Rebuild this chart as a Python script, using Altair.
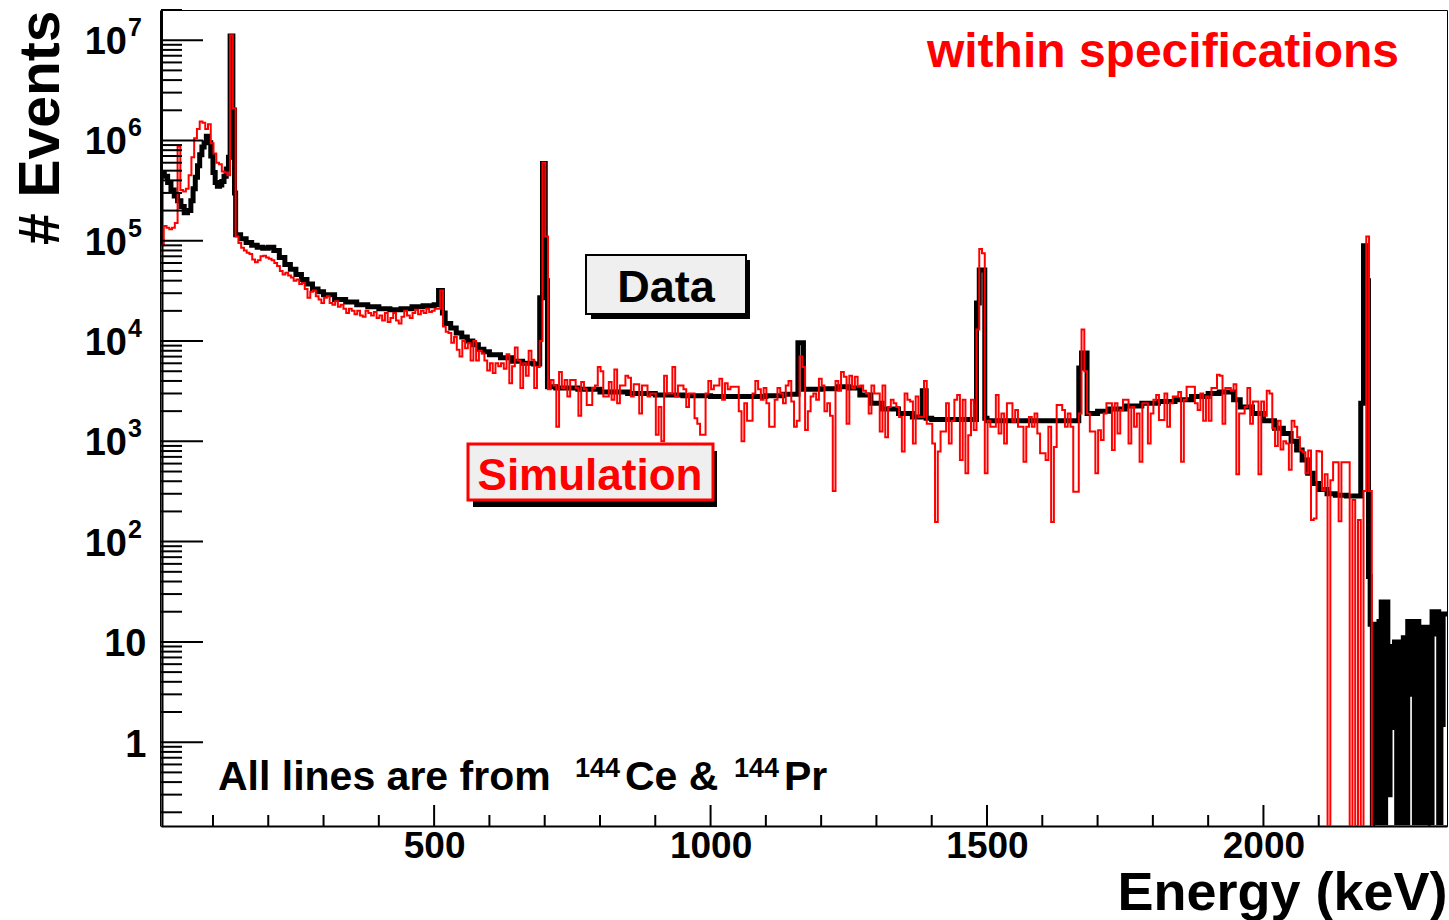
import altair as alt
import pandas as pd

# ---------------------------------------------------------------
# Data
# ---------------------------------------------------------------
# Measured "Data" spectrum: (bin low edge in keV, events per bin)
DATA_LOW_E = [6, 12, 18, 24, 30, 36, 42, 48, 54, 60, 64, 68, 72, 76, 80, 84, 88, 92, 96, 100,
              104, 108, 112, 116, 120, 124, 128, 131, 136, 139]
DATA_LOW_N = [4.8e5, 4.4e5, 3.8e5, 3.2e5, 2.8e5, 2.5e5, 2.2e5, 1.9e5, 2.0e5, 2.5e5,
              3.3e5, 4.3e5, 5.6e5, 7.2e5, 8.6e5, 9.5e5, 1.1e6, 9.5e5, 7.0e5, 4.8e5,
              3.8e5, 3.5e5, 3.6e5, 3.9e5, 4.4e5, 5.2e5, 6.8e5, 1.1e7, 2.0e6, 3.0e5]

DATA_MID_E = [141, 150, 160, 170, 180, 190, 200, 210, 220, 230, 240, 250, 260, 270, 280, 290,
              300, 320, 340, 360, 380, 400, 420, 440, 460, 480, 500, 508, 515, 520, 530, 540,
              550, 560, 570, 580, 590, 600, 620, 640, 660, 680, 691, 696, 701, 705, 720, 760,
              800, 850, 900, 950]
DATA_MID_N = [1.15e5, 1.05e5, 9.6e4, 9.0e4, 8.6e4, 8.4e4, 8.6e4, 8.0e4, 6.8e4, 5.8e4,
              5.2e4, 4.6e4, 4.1e4, 3.7e4, 3.3e4, 3.1e4, 2.9e4, 2.6e4, 2.45e4, 2.3e4,
              2.2e4, 2.1e4, 2.05e4, 2.1e4, 2.2e4, 2.25e4, 2.3e4, 3.2e4, 1.9e4, 1.5e4,
              1.35e4, 1.2e4, 1.1e4, 1.0e4, 9.2e3, 8.3e3, 7.8e3, 7.3e3, 6.8e3, 6.3e3,
              6.0e3, 5.9e3, 2.7e4, 5.9e5, 4.0e4, 3.5e3, 3.4e3, 3.3e3, 3.1e3, 3.0e3,
              2.9e3, 2.85e3]

DATA_HIGH_E = [1000, 1050, 1100, 1130, 1158, 1168, 1200, 1230, 1250, 1270, 1290, 1310, 1340,
               1365, 1383, 1390, 1400, 1481, 1486, 1496, 1500, 1666, 1671, 1681, 1700, 1720,
               1750, 1780, 1810, 1840, 1870, 1900, 1920, 1946, 1958, 1980, 2000, 2020, 2036,
               2050, 2060, 2070, 2080, 2090, 2100, 2115, 2130, 2150, 2176, 2181, 2186, 2190]
DATA_HIGH_N = [2.8e3, 2.8e3, 2.85e3, 2.95e3, 9.6e3, 3.3e3, 3.35e3, 3.5e3, 3.4e3, 2.9e3,
               2.4e3, 2.1e3, 1.9e3, 1.75e3, 3.2e3, 1.7e3, 1.65e3, 2.4e4, 5.1e4, 1.7e3,
               1.6e3, 5.4e3, 7.6e3, 1.9e3, 2.0e3, 2.1e3, 2.25e3, 2.4e3, 2.5e3, 2.6e3,
               2.8e3, 3.0e3, 3.1e3, 2.6e3, 2.2e3, 1.9e3, 1.6e3, 1.35e3, 1.2e3, 1.0e3,
               820, 650, 480, 380, 330, 300, 290, 285, 2.4e3, 8.9e4,
               4.0e4, 45]

DATA_TAIL_E = [2193, 2197, 2201, 2205, 2209, 2213, 2217, 2221, 2225, 2229, 2233, 2237, 2241,
               2245, 2249, 2253, 2257, 2261, 2265, 2269, 2273, 2277, 2281, 2285, 2289, 2293,
               2297, 2301, 2305, 2309, 2313, 2317, 2321, 2325, 2329]
DATA_TAIL_N = [15, 0, 15, 0, 16, 25, 0, 25, 0.3, 9, 1.4, 10, 0, 10, 0, 11, 0, 16, 3, 16,
               0, 16, 14, 0, 14, 0, 14, 0, 20, 12, 20, 0, 1.5, 19, 19]

# Simulation spectrum: 5 keV bins starting at 6 keV (one row = 100 keV)
SIM_START_KEV = 6
SIM_BIN_KEV = 5
SIM_A = [9e4, 1.4e5, 1.35e5, 1.3e5, 1.35e5, 1.5e5, 8.7e5, 3.2e5, 3.1e5, 3.3e5,
         4.5e5, 6.8e5, 1.05e6, 1.3e6, 1.55e6, 1.5e6, 1.3e6, 1.45e6, 9.4e5, 7.4e5,
         6.0e5, 5.8e5, 4.9e5, 4.8e5, 4.5e5, 1.12e7, 2.1e6, 1.1e5, 9.5e4, 8.5e4,
         8.0e4, 7.6e4, 7.4e4, 6.5e4, 6.1e4, 6.4e4, 7.0e4, 7.1e4, 6.8e4, 6.6e4,
         6.4e4, 6.0e4, 5.6e4, 5.0e4, 4.6e4, 4.8e4, 4.5e4, 4.3e4, 4.0e4, 4.1e4,
         3.7e4, 3.8e4, 3.3e4, 2.7e4, 3.1e4, 3.2e4, 2.8e4, 2.6e4, 2.4e4, 2.7e4,
         2.8e4, 2.4e4, 2.3e4, 2.5e4, 2.2e4, 2.3e4, 2.1e4, 1.9e4, 2.1e4, 2.0e4,
         1.85e4, 2.0e4, 1.8e4, 1.75e4, 2.0e4, 1.9e4, 1.8e4, 1.95e4, 1.7e4, 1.8e4,
         1.6e4, 1.9e4, 1.55e4, 1.7e4, 1.9e4, 1.6e4, 1.5e4, 1.75e4, 2.0e4, 1.8e4,
         1.7e4, 1.9e4, 2.05e4, 1.85e4, 2.0e4, 1.9e4, 2.1e4, 1.95e4, 2.0e4, 2.1e4]
SIM_B = [2.1e4, 3.2e4, 1.4e4, 1.24e4, 1.2e4, 9.6e3, 1.1e4, 8.2e3, 7.0e3, 1.0e4,
         8.5e3, 9.5e3, 6.4e3, 1.0e4, 6.4e3, 8.0e3, 7.5e3, 6.4e3, 5.1e3, 6.0e3,
         4.8e3, 6.0e3, 5.6e3, 6.0e3, 5.3e3, 7.4e3, 3.8e3, 5.6e3, 8.6e3, 6.4e3,
         3.4e3, 6.0e3, 4.5e3, 8.0e3, 6.5e3, 3.4e3, 5.5e3, 1.0e4, 6.0e5, 1.1e5,
         3.3e3, 4.1e3, 3.6e3, 1.4e3, 4.9e3, 3.4e3, 4.1e3, 2.8e3, 4.1e3, 4.1e3,
         3.4e3, 1.8e3, 3.9e3, 3.3e3, 2.3e3, 2.3e3, 3.4e3, 3.6e3, 5.5e3, 5.0e3,
         2.8e3, 2.8e3, 3.9e3, 2.6e3, 5.2e3, 2.4e3, 3.6e3, 3.6e3, 4.5e3, 4.3e3,
         2.8e3, 3.7e3, 3.7e3, 1.9e3, 3.6e3, 3.6e3, 2.8e3, 3.0e3, 3.0e3, 1.16e3,
         2.2e3, 1.0e3, 4.5e3, 3.0e3, 3.0e3, 5.5e3, 2.8e3, 3.6e3, 3.6e3, 3.3e3,
         2.2e3, 3.0e3, 3.0e3, 1.7e3, 1.5e3, 1.16e3, 1.16e3, 3.0e3, 4.0e3, 3.3e3]
SIM_C = [3.6e3, 3.6e3, 4.2e3, 2.6e3, 3.8e3, 3.3e3, 3.5e3, 3.5e3, 3.5e3, 2.0e3,
         1.0e3, 2.4e3, 1.6e3, 1.6e3, 3.0e3, 4.0e3, 3.3e3, 2.6e3, 3.4e3, 2.4e3,
         1.4e3, 1.4e3, 2.6e3, 3.4e3, 3.0e3, 2.4e3, 3.6e3, 4.0e3, 2.5e3, 1.4e3,
         1.6e3, 7.0e3, 5.5e3, 1.3e3, 2.0e3, 2.8e3, 3.0e3, 2.6e3, 4.2e3, 3.6e3,
         2.0e3, 2.4e3, 1.8e3, 320, 4.0e3, 3.2e3, 4.9e3, 4.4e3, 1.5e3, 4.5e3,
         3.4e3, 4.4e3, 3.5e3, 3.6e3, 3.2e3, 3.0e3, 1.9e3, 3.6e3, 3.0e3, 3.0e3,
         1.25e3, 3.6e3, 1.1e3, 2.2e3, 2.6e3, 2.4e3, 2.2e3, 1.75e3, 790, 3.0e3,
         2.6e3, 2.5e3, 950, 2.8e3, 1.75e3, 1.75e3, 4.0e3, 1.5e3, 1.5e3, 950,
         157, 790, 1.25e3, 1.25e3, 2.4e3, 950, 1.6e3, 2.6e3, 2.9e3, 650,
         2.6e3, 480, 1.15e3, 2.6e3, 1.3e3, 1.3e4, 8.3e4, 7.5e4, 480, 1.6e3]
SIM_D = [1.4e3, 1.4e3, 2.9e3, 1.2e3, 1.9e3, 950, 2.4e3, 2.4e3, 1.57e3, 2.05e3,
         1.4e3, 1.4e3, 625, 1.4e3, 1.75e3, 1.4e3, 1.9e3, 1.2e3, 760, 760,
         650, 1.4e3, 157, 880, 2.3e3, 2.3e3, 2.05e3, 1.4e3, 1.9e3, 1.4e3,
         314, 314, 1.9e3, 1.3e4, 5.0e3, 1.9e3, 1.25e3, 1.25e3, 480, 1.29e3,
         1.03e3, 1.9e3, 2.4e3, 2.4e3, 820, 2.4e3, 1.2e3, 2.05e3, 2.6e3, 2.6e3,
         950, 2.2e3, 1.4e3, 1.9e3, 625, 2.4e3, 2.4e3, 950, 1.9e3, 2.6e3,
         2.9e3, 1.63e3, 1.63e3, 3.0e3, 1.4e3, 2.4e3, 2.8e3, 2.8e3, 3.1e3, 625,
         2.6e3, 3.5e3, 3.5e3, 3.5e3, 2.4e3, 2.05e3, 3.0e3, 1.6e3, 2.8e3, 1.6e3,
         3.4e3, 3.4e3, 4.6e3, 4.5e3, 1.5e3, 3.4e3, 3.4e3, 3.2e3, 3.7e3, 470,
         1.9e3, 1.9e3, 2.2e3, 3.4e3, 1.5e3, 2.5e3, 2.5e3, 470, 2.5e3, 1.8e3]
SIM_E = [3.2e3, 3.0e3, 1.35e3, 900, 1.6e3, 830, 1.0e3, 950, 520, 1.6e3,
         1.4e3, 1.1e3, 810, 780, 480, 810, 164, 170, 800, 790,
         325, 470, 0, 410, 620, 620, 160, 620, 620, 620,
         0, 260, 0, 164, 0, 320, 1.1e5, 320, 0, 0,
         0, 0, 0, 0, 0, 0, 0, 0, 0, 0,
         0, 0, 0, 0, 0, 0, 0, 0, 0, 0,
         0, 0, 0, 0, 0, 0]

# Axis tick labels / positions
X_LABEL_VALUES = [500, 1000, 1500, 2000]
Y_PLAIN_LABEL_VALUES = [1, 10]
Y_POWER_VALUES = [100, 1000, 10000, 100000, 1000000, 10000000]
Y_POWER_BASE = ["10", "10", "10", "10", "10", "10"]
Y_POWER_EXPONENT = ["2", "3", "4", "5", "6", "7"]

# ---------------------------------------------------------------
X_DOMAIN = [6, 2332]
Y_DOMAIN = [0.146, 2.0e7]
W, H = 1286, 816
FONT = "Liberation Sans"
RED = "#ff0000"

assert len(DATA_LOW_E) == len(DATA_LOW_N)
assert len(DATA_MID_E) == len(DATA_MID_N)
assert len(DATA_HIGH_E) == len(DATA_HIGH_N)
assert len(DATA_TAIL_E) == len(DATA_TAIL_N)


def hist_frame(edges, counts, end_edge):
    # histogram outline starts from the baseline at the first low edge
    rows = [{"E": edges[0], "n": 0.0, "i": 0}]
    for k, (e, c) in enumerate(zip(edges, counts)):
        rows.append({"E": e, "n": c, "i": k + 1})
    rows.append({"E": end_edge, "n": counts[-1], "i": len(edges) + 1})
    return pd.DataFrame(rows)


data_E = DATA_LOW_E + DATA_MID_E + DATA_HIGH_E + DATA_TAIL_E
data_N = DATA_LOW_N + DATA_MID_N + DATA_HIGH_N + DATA_TAIL_N
sim_N = SIM_A + SIM_B + SIM_C + SIM_D + SIM_E
sim_E = [SIM_START_KEV + SIM_BIN_KEV * k for k in range(len(sim_N))]

df_data = hist_frame(data_E, data_N, data_E[-1] + 4)
df_sim = hist_frame(sim_E, sim_N, sim_E[-1] + SIM_BIN_KEV)

xscale = alt.Scale(domain=X_DOMAIN, nice=False, zero=False)
yscale = alt.Scale(type="log", domain=Y_DOMAIN, nice=False, clamp=True)

LABEL_SIZE = 38
x_axis = alt.Axis(
    orient="bottom",
    values=X_LABEL_VALUES, format="d", ticks=False, grid=False,
    domainColor="black", domainWidth=2,
    labelFont=FONT, labelFontSize=37, labelFontWeight="bold", labelColor="black",
    labelPadding=2, labelBaseline="top", labelFlush=False, labelOverlap=False,
    title="Energy (keV)", titleFont=FONT, titleFontSize=54, titleFontWeight="bold",
    titleColor="black", titleX=W, titleY=83, titleAlign="right",
    titleBaseline="alphabetic", titleAnchor="end",
)
y_axis = alt.Axis(
    orient="left",
    values=Y_PLAIN_LABEL_VALUES, format="d",
    ticks=False, grid=False, domainColor="black", domainWidth=3,
    labelFont=FONT, labelFontSize=LABEL_SIZE, labelFontWeight="bold", labelColor="black",
    labelPadding=15, labelBaseline="middle", labelOffset=3, labelFlush=False,
    labelOverlap=False,
    title="# Events", titleFont=FONT, titleFontSize=57, titleFontWeight="bold",
    titleColor="black", titleAngle=270, titleX=-103, titleY=0, titleAlign="right",
    titleBaseline="alphabetic",
)

# every layer that uses a positional field shares the same scale and axis definition
X_ENC = dict(scale=xscale, axis=x_axis)
Y_ENC = dict(scale=yscale, axis=y_axis)


def hist_line(df, color, width):
    return (
        alt.Chart(df)
        .transform_calculate(yv="max(datum.n, 0.1)")
        .mark_line(interpolate="step-after", color=color, strokeWidth=width, clip=True)
        .encode(
            x=alt.X("E:Q", **X_ENC),
            y=alt.Y("yv:Q", **Y_ENC),
            order=alt.Order("i:Q"),
        )
    )


data_line = hist_line(df_data, "black", 5)
sim_line = hist_line(df_sim, RED, 2)

# ---- inward ticks (ROOT style) ----
y_major = Y_PLAIN_LABEL_VALUES + Y_POWER_VALUES
y_minor = [m * 10.0 ** d for d in range(-1, 8) for m in range(2, 10)
           if Y_DOMAIN[0] <= m * 10.0 ** d <= Y_DOMAIN[1]]
x_major = X_LABEL_VALUES
x_minor = [v for v in range(100, 2400, 100) if v % 500 and v <= X_DOMAIN[1]]


def yticks(vals, length):
    return alt.Chart(pd.DataFrame({"yv": vals})).mark_rule(
        color="black", strokeWidth=2).encode(
        y=alt.Y("yv:Q", **Y_ENC), x=alt.value(0), x2=alt.value(length))


def xticks(vals, length):
    return alt.Chart(pd.DataFrame({"E": vals})).mark_rule(color="black", strokeWidth=2).encode(
        x=alt.X("E:Q", **X_ENC), y=alt.value(H), y2=alt.value(H - length))


# "10" + superscript exponent labels for the decades above 10
power_df = pd.DataFrame({"yv": Y_POWER_VALUES, "b": Y_POWER_BASE, "e": Y_POWER_EXPONENT})
power_base = alt.Chart(power_df).mark_text(
    align="right", baseline="middle", dy=3, font=FONT, fontSize=LABEL_SIZE, fontWeight="bold",
    color="black").encode(y=alt.Y("yv:Q", **Y_ENC), x=alt.value(-34), text="b:N")
power_exp = alt.Chart(power_df).mark_text(
    align="left", baseline="alphabetic", dy=-4, font=FONT, fontSize=25, fontWeight="bold",
    color="black").encode(y=alt.Y("yv:Q", **Y_ENC), x=alt.value(-33), text="e:N")


def label(text, x, y, size, color="black", align="left"):
    return alt.Chart(pd.DataFrame({"t": [text]})).mark_text(
        align=align, baseline="alphabetic", font=FONT, fontSize=size, fontWeight="bold",
        color=color).encode(x=alt.value(x), y=alt.value(y), text="t:N")


def box(x1, x2, y1, y2, fill, stroke=None, sw=0):
    kw = dict(fill=fill)
    if stroke:
        kw.update(stroke=stroke, strokeWidth=sw)
    return alt.Chart(pd.DataFrame({"k": [0]})).mark_rect(**kw).encode(
        x=alt.value(x1), x2=alt.value(x2), y=alt.value(y1), y2=alt.value(y2))


annotations = [
    label("within specifications", 1238, 57, 48, RED, "right"),
    # "Data" pave
    box(430, 589, 250, 309, "black"),
    box(425, 585, 245, 304, "#efefef", "black", 2),
    label("Data", 505, 292, 45, "black", "center"),
    # "Simulation" pave
    box(312, 556, 441, 497, "black"),
    box(307, 552, 434, 490, "#efefef", RED, 3),
    label("Simulation", 429, 480, 44, RED, "center"),
    # note
    label("All lines are from", 57, 780, 41),
    label("144", 414, 767, 27),
    label("Ce &", 464, 780, 41),
    label("144", 573, 767, 27),
    label("Pr", 623, 780, 41),
]

chart = alt.layer(
    data_line, sim_line,
    yticks(y_major, 42), yticks(y_minor, 21), xticks(x_major, 21), xticks(x_minor, 11),
    power_base, power_exp, *annotations,
).properties(
    width=W, height=H,
    padding={"left": 161, "top": 10, "right": 2, "bottom": 94},
    autosize=alt.AutoSizeParams(type="none"),
    background="white",
).configure_view(stroke="black", strokeWidth=1)

chart.save("out.html", embed_options={"renderer": "svg", "actions": False})
